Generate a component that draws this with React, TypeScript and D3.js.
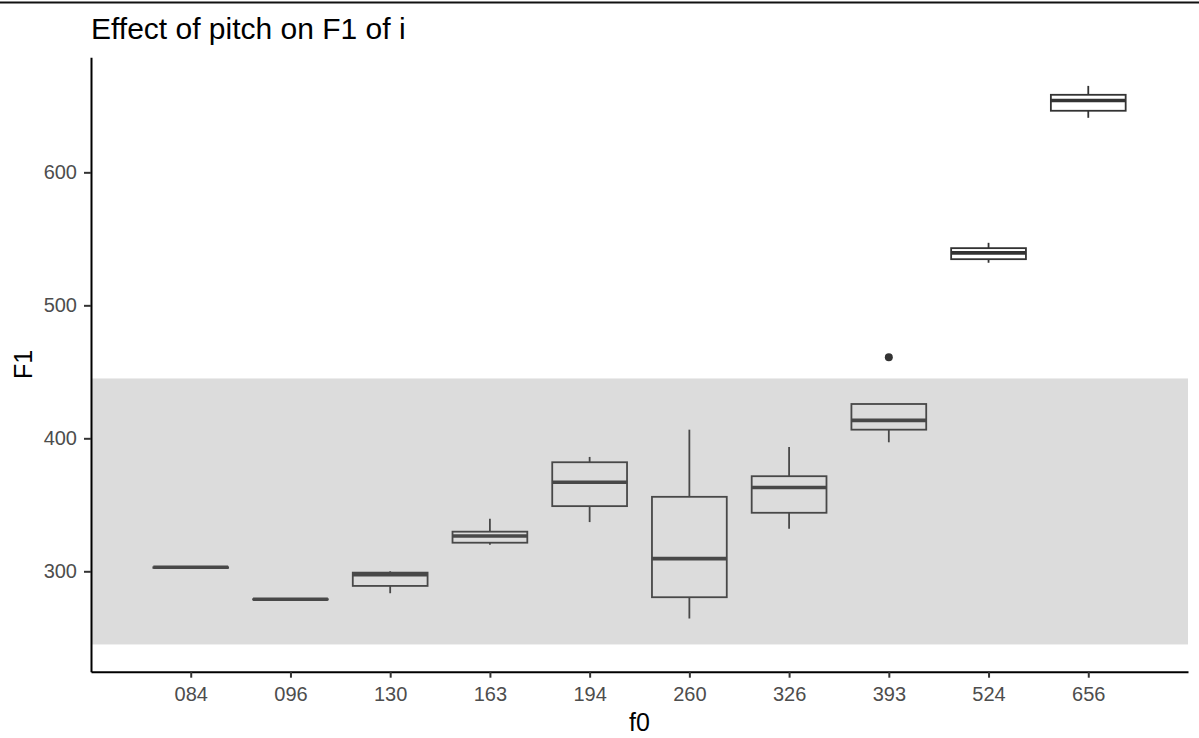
import { useRef, useEffect } from 'react';
import { select, scalePoint, scaleLinear, axisLeft, axisBottom } from 'd3';

// f0 groups and boxplot statistics
const categories = ['084', '096', '130', '163', '194', '260', '326', '393', '524', '656'];
const whiskerLow = [303, 279, 283.5, 320, 337, 264.5, 332, 397, 532, 641];
const q1 = [302.6, 278.8, 289, 321.5, 349, 280.5, 344, 406.5, 534.7, 646.3];
const median = [303, 279, 297.5, 326.5, 367, 309.5, 363, 413.5, 539.4, 654];
const q3 = [303, 279, 299, 329.8, 382, 356, 371.5, 425.8, 543, 658.3];
const whiskerHigh = [303, 279, 300, 339.5, 386, 406.5, 393.5, 425.8, 547, 665];
const outliers = [{ f0: '393', value: 461 }];
const yTicks = [300, 400, 500, 600];
const band = { ymin: 245, ymax: 445 };

const W = 1199;
const H = 738;

export default function App() {
  const ref = useRef<SVGSVGElement>(null);

  useEffect(() => {
    if (!ref.current) return;
    const svg = select(ref.current);
    svg.selectAll('*').remove();

    const margin = { top: 57.3, right: 11, bottom: 66.3, left: 91 };
    const x = scalePoint<string>()
      .domain(categories)
      .range([margin.left, W - margin.right])
      .padding(1);
    const y = scaleLinear()
      .domain([224.5, 686.5])
      .range([H - margin.bottom, margin.top]);
    const boxW = x.step() * 0.75;

    svg.append('rect').attr('width', W).attr('height', H).attr('fill', '#ffffff');

    // thin rule along the top edge of the screenshot
    svg.append('line')
      .attr('x1', 0).attr('x2', W).attr('y1', 2.5).attr('y2', 2.5)
      .attr('stroke', '#111').attr('stroke-width', 2);

    const rows = categories.map((c, i) => ({
      c, lo: whiskerLow[i], q1: q1[i], med: median[i], q3: q3[i], hi: whiskerHigh[i],
    }));

    const g = svg.append('g');
    const box = g.selectAll('g.box').data(rows).join('g').attr('class', 'box');
    box.append('line')
      .attr('x1', d => x(d.c)!).attr('x2', d => x(d.c)!)
      .attr('y1', d => y(d.hi)).attr('y2', d => y(d.q3))
      .attr('stroke', '#333').attr('stroke-width', 1.8);
    box.append('line')
      .attr('x1', d => x(d.c)!).attr('x2', d => x(d.c)!)
      .attr('y1', d => y(d.q1)).attr('y2', d => y(d.lo))
      .attr('stroke', '#333').attr('stroke-width', 1.8);
    box.append('rect')
      .attr('x', d => x(d.c)! - boxW / 2)
      .attr('width', boxW)
      .attr('y', d => y(d.q3))
      .attr('height', d => y(d.q1) - y(d.q3))
      .attr('fill', '#fff').attr('stroke', '#333').attr('stroke-width', 1.8);
    box.append('line')
      .attr('x1', d => x(d.c)! - boxW / 2).attr('x2', d => x(d.c)! + boxW / 2)
      .attr('y1', d => y(d.med)).attr('y2', d => y(d.med))
      .attr('stroke', '#333').attr('stroke-width', 3.6);

    g.selectAll('circle').data(outliers).join('circle')
      .attr('cx', d => x(d.f0)!).attr('cy', d => y(d.value))
      .attr('r', 4).attr('fill', '#333');

    // translucent annotation band drawn over the boxes
    svg.append('rect')
      .attr('x', margin.left).attr('width', W - margin.right - margin.left)
      .attr('y', y(band.ymax)).attr('height', y(band.ymin) - y(band.ymax))
      .attr('fill', '#808080').attr('fill-opacity', 0.28);

    const font = '"Liberation Sans", Arial, sans-serif';

    const xAxis = svg.append('g')
      .attr('transform', `translate(0,${H - margin.bottom})`)
      .call(axisBottom(x).tickSize(6).tickSizeOuter(0).tickPadding(9));
    const yAxis = svg.append('g')
      .attr('transform', `translate(${margin.left},0)`)
      .call(axisLeft(y).tickValues(yTicks).tickSize(7).tickSizeOuter(0).tickPadding(7));

    [xAxis, yAxis].forEach(a => {
      a.select('.domain').attr('stroke', '#000').attr('stroke-width', 2);
      a.selectAll('.tick line').attr('stroke', '#333').attr('stroke-width', 2);
      a.selectAll('.tick text')
        .attr('fill', '#4d4d4d')
        .style('font-family', font)
        .style('font-size', '20px');
    });

    svg.append('text')
      .attr('x', (margin.left + W - margin.right) / 2)
      .attr('y', 731)
      .attr('text-anchor', 'middle')
      .style('font-family', font).style('font-size', '25px')
      .text('f0');

    svg.append('text')
      .attr('transform', `translate(32,${(margin.top + H - margin.bottom) / 2}) rotate(-90)`)
      .attr('text-anchor', 'middle')
      .style('font-family', font).style('font-size', '25px')
      .text('F1');

    svg.append('text')
      .attr('x', 91)
      .attr('y', 39)
      .style('font-family', font).style('font-size', '30px')
      .text('Effect of pitch on F1 of i');
  }, []);

  return (
    <svg
      ref={ref}
      width={W}
      height={H}
      style={{ position: 'absolute', left: 0, top: 0, display: 'block' }}
    />
  );
}
